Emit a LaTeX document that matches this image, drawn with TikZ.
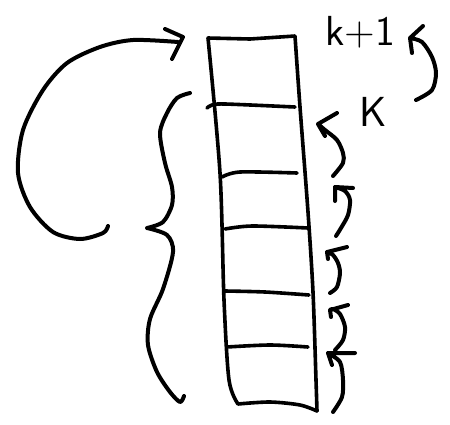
\documentclass[tikz,border=0pt]{standalone}
\usetikzlibrary{math}
\tikzset{
  ink/.style={line width=2pt, line cap=round, line join=round},
  lbl/.style={font=\sffamily\fontsize{21}{21}\selectfont, inner sep=0pt}
}

\begin{document}
\begin{tikzpicture}[x=0.5pt, y=-0.5pt]
\useasboundingbox (0,0) rectangle (450,424);

% the stack
\draw[ink, line width=1.8pt] plot[smooth, tension=0.5] coordinates {(238,404) (229,380) (224,300) (220,173) (208,38)}
  -- (250,39) -- (295,36)
  plot[smooth, tension=0.5] coordinates {(295,36) (300,107) (308,212) (313,292) (316,380) (317,411)};
\draw[ink, line width=1.8pt] plot[smooth] coordinates {(238,404) (270,402) (300,405) (317,411)};

\draw[ink, line width=1.8pt] plot[smooth] coordinates {(207,108) (212,105) (225,104) (295,107)};
\draw[ink, line width=1.8pt] plot[smooth] coordinates {(222,177) (240,172) (297,173)};
\draw[ink, line width=1.8pt] plot[smooth] coordinates {(225,229) (252,226) (308,228)};
\draw[ink, line width=1.8pt] plot[smooth] coordinates {(225,291) (265,292) (309,295)};
\draw[ink, line width=1.8pt] plot[smooth] coordinates {(227,347) (270,345) (308,347)};

\node[lbl] (kone) at (360,32) {k+1};
\node[lbl] (kk) at (373,112) {K};

% step arrows on the right
\draw[ink] plot[smooth] coordinates {(416,100) (432,90) (436,73) (432,57) (422,42) (410,38)}
  (423,26) -- (410,38) -- (412,53);
\draw[ink] plot[smooth] coordinates {(333,176) (343,163) (343,153) (337,140) (325,130) (318,124)}
  (337,113) -- (318,124) -- (325,136);
\draw[ink] plot[smooth] coordinates {(336,236) (341,228) (348,215) (350,200) (345,191) (335,187)}
  (353,188) -- (335,187) -- (335,201);
\draw[ink] plot[smooth] coordinates {(330,293) (337,287) (340,273) (338,263) (333,255) (327,252)}
  (347,247) -- (327,252) -- (328,259);
\draw[ink] plot[smooth] coordinates {(335,350) (343,340) (345,327) (340,314) (333,309) (330,310)}
  (348,305) -- (330,310) -- (331,317);
\draw[ink] plot[smooth] coordinates {(333,412) (342,397) (343,380) (340,362) (328,353)}
  (355,353) -- (328,353) -- (332,365);

% brace
\draw[ink] plot[smooth] coordinates {(190,93) (177,98) (167,113) (160,133) (165,163) (172,187) (172,205) (163,222) (147,228)}
  plot[smooth] coordinates {(147,228) (167,235) (173,252) (163,289) (150,319) (148,345) (157,372) (170,392) (180,402) (184,396)};

% big arrow from the brace to the top
\draw[ink] plot[smooth] coordinates {(108,226) (103,233) (80,239) (53,232) (30,207) (18,173) (23,130) (43,90) (67,63) (100,47) (133,40) (178,42)}
  (165,29) -- (183,37) -- (172,59);
\end{tikzpicture}
\end{document}
